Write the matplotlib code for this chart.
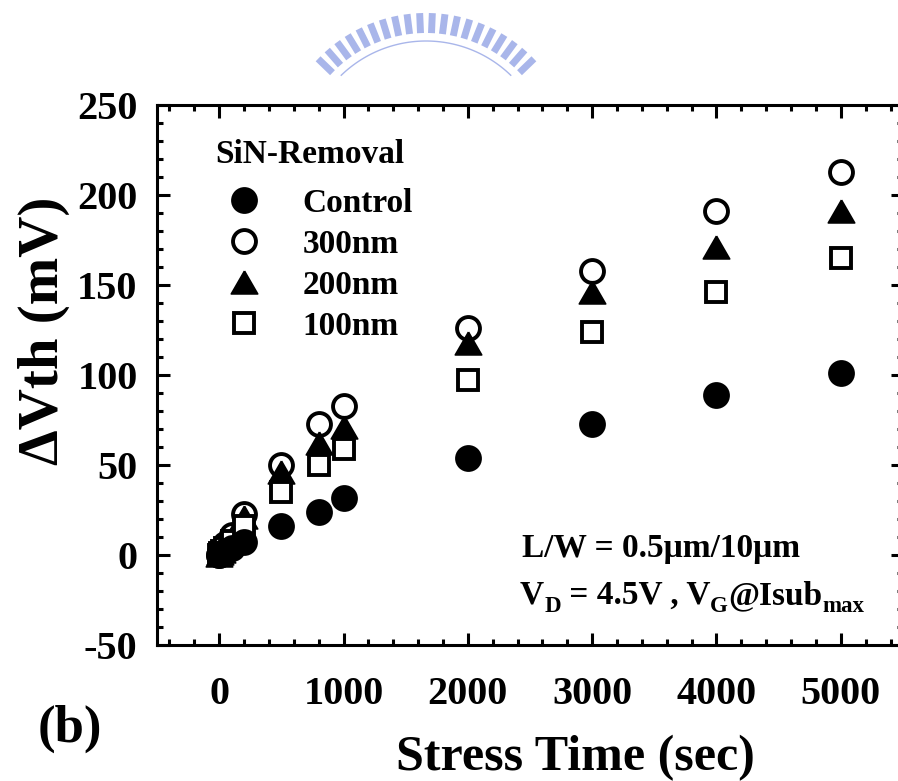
import matplotlib
matplotlib.use('Agg')
import matplotlib.pyplot as plt
import numpy as np
from matplotlib.lines import Line2D
from matplotlib.ticker import MultipleLocator

plt.rcParams['font.family'] = ['Liberation Serif', 'DejaVu Serif']
plt.rcParams['font.weight'] = 'bold'
plt.rcParams['axes.unicode_minus'] = False

# ---- data ----
times = [0, 10, 20, 50, 100, 200, 500, 800, 1000, 2000, 3000, 4000, 5000]
control = [0, 0.5, 1, 2, 4, 7, 16, 24, 31.5, 54, 73, 89, 101]
nm300 = [0, 1.5, 3, 6, 11, 23, 50, 73, 83, 126, 158, 191, 213]
nm200 = [0, 1, 2.5, 5, 10, 21, 46, 62, 71, 118, 146, 171, 191]
nm100 = [0, 1, 2, 4, 8, 16, 35, 50, 59, 97, 124, 146, 165]
labels = ['Control', '300nm', '200nm', '100nm']
xticks = [0, 1000, 2000, 3000, 4000, 5000]
yticks = [-50, 0, 50, 100, 150, 200, 250]

W, H = 898, 781
fig = plt.figure(figsize=(W / 100, H / 100), dpi=100)
ax = fig.add_axes([157 / W, 136 / H, 746 / W, 540 / H])

tri = [(0, 0.866), (-1, -0.866), (1, -0.866), (0, 0.866)]
h300, = ax.plot(times, nm300, linestyle='none', marker='o', ms=16.5, mew=2.8,
                mfc='white', mec='black', zorder=3)
h200, = ax.plot(times, nm200, linestyle='none', marker=tri, ms=19, mew=1.2,
                mfc='black', mec='black', zorder=4)
h100, = ax.plot(times, nm100, linestyle='none', marker='s', ms=15, mew=2.8,
                mfc='white', mec='black', zorder=5)
hc, = ax.plot(times, control, linestyle='none', marker='o', ms=16.5, mew=2.8,
              mfc='black', mec='black', zorder=6)

ax.set_xlim(-500, 5500)
ax.set_ylim(-50, 250)
ax.set_xticks(xticks)
ax.set_yticks(yticks)
ax.xaxis.set_minor_locator(MultipleLocator(200))
ax.yaxis.set_minor_locator(MultipleLocator(10))
ax.tick_params(which='both', direction='in', top=True, right=True, width=2.2)
ax.tick_params(which='major', length=9, labelsize=29)
ax.tick_params(axis='x', which='major', pad=22)
ax.tick_params(axis='y', which='major', pad=14)
ax.tick_params(which='minor', length=4.5)
for sp in ax.spines.values():
    sp.set_linewidth(2.2)

ax.set_xlabel('Stress Time (sec)', fontsize=36, fontweight='bold')
ax.xaxis.set_label_coords((575 - 157) / 746, -0.166)
ax.set_ylabel('ΔVth (mV)', fontsize=41, fontweight='bold')
ax.yaxis.set_label_coords((70 - 157) / 746, (645 - 331) / 540)

leg = ax.legend([hc, h300, h200, h100], labels, loc='upper left',
                bbox_to_anchor=((211 - 157) / 746, (645 - 188) / 540),
                frameon=False, fontsize=24, handlelength=2.0, handletextpad=0.75,
                labelspacing=0.3, borderpad=0, borderaxespad=0, numpoints=1)
ax.text((215 - 157) / 746, (645 - 163) / 540, 'SiN-Removal', fontsize=24,
        fontweight='bold', ha='left', va='baseline', transform=ax.transAxes)

# annotation lines
renderer = fig.canvas.get_renderer()


def place_runs(x_px, y_px, runs):
    x = x_px
    for s, size, dy in runs:
        t = fig.text(x / W, 1 - (y_px + dy) / H, s, fontsize=size,
                     fontweight='bold', ha='left', va='baseline')
        x += t.get_window_extent(renderer).width


place_runs(522, 557, [('L/W = 0.5μm/10μm', 24, 0)])
place_runs(520, 604, [('V', 24, 0), ('D', 16.5, 8), (' = 4.5V , V', 24, 0),
                      ('G', 16.5, 8), ('@Isub', 24, 0), ('max', 16.5, 8)])

fig.text(38 / W, 1 - 742 / H, '(b)', fontsize=38, fontweight='bold',
         ha='left', va='baseline')

# faint logo watermark at top
cx, cy, r = 426, 163, 150
logo_col = '#a9b6ea'
for a in np.linspace(-46, 46, 20):
    th = np.deg2rad(a)
    xs = [cx + (r - 20) * np.sin(th), cx + r * np.sin(th)]
    ys = [cy - (r - 20) * np.cos(th), cy - r * np.cos(th)]
    fig.add_artist(Line2D([v / W for v in xs], [1 - v / H for v in ys],
                          transform=fig.transFigure, color=logo_col, lw=5,
                          solid_capstyle='butt'))
ang = np.deg2rad(np.linspace(-44, 44, 60))
fig.add_artist(Line2D([(cx + (r - 28) * np.sin(t)) / W for t in ang],
                      [1 - (cy - (r - 28) * np.cos(t)) / H for t in ang],
                      transform=fig.transFigure, color=logo_col, lw=1.0))

fig.savefig('out.png', dpi=100)
